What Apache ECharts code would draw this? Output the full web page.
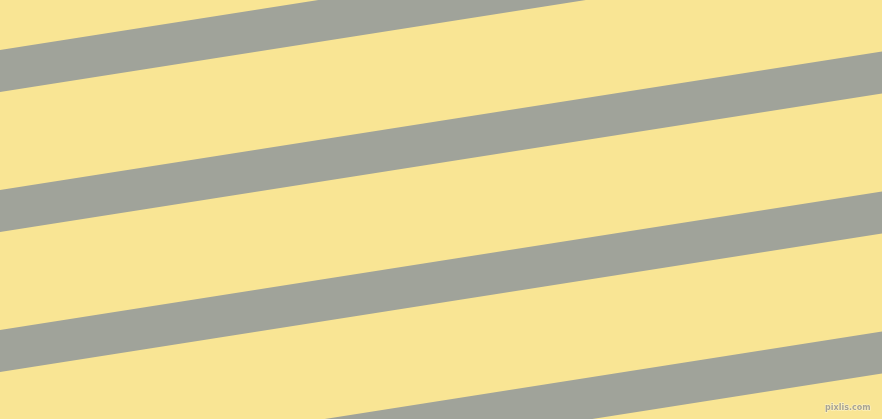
<!DOCTYPE html>
<html>
<head>
<meta charset="utf-8">
<script src="https://cdn.jsdelivr.net/npm/echarts@6/dist/echarts.min.js"></script>
<style>html,body{margin:0;padding:0;background:#f9e594;}#c{width:882px;height:419px;}</style>
</head>
<body>
<div id="c"></div>
<script>
const xRange = [0, 882];
const yRange = [0, 419];
const stripeLeftEdge = [50, 190, 330, 470];
const stripeRightEdge = [-88.5, 51.5, 191.5, 331.5];
const stripeThickness = [42, 42, 42, 42];

const chart = echarts.init(document.getElementById('c'), null, {renderer: 'canvas'});
const data = stripeLeftEdge.map((v, i) => [v, stripeRightEdge[i], stripeThickness[i]]);
chart.setOption({
  backgroundColor: '#f9e594',
  animation: false,
  grid: {left: 0, right: 0, top: 0, bottom: 0},
  xAxis: {type: 'value', min: xRange[0], max: xRange[1], show: false},
  yAxis: {type: 'value', min: yRange[0], max: yRange[1], inverse: true, show: false},
  series: [{
    type: 'custom',
    clip: true,
    data: data,
    renderItem: function (params, api) {
      const l = api.value(0), r = api.value(1), w = api.value(2);
      const pts = [
        api.coord([xRange[0], l]),
        api.coord([xRange[1], r]),
        api.coord([xRange[1], r + w]),
        api.coord([xRange[0], l + w])
      ];
      return {
        type: 'polygon',
        shape: {points: pts},
        style: {fill: '#a0a39a'}
      };
    }
  }],
  graphic: [{
    type: 'text',
    right: 11,
    bottom: 7,
    style: {
      text: 'pixlis.com',
      font: 'bold 8px "DejaVu Sans"',
      fill: '#a8a392',
      stroke: '#fff6cc',
      lineWidth: 1
    }
  }]
});
</script>
</body>
</html>
